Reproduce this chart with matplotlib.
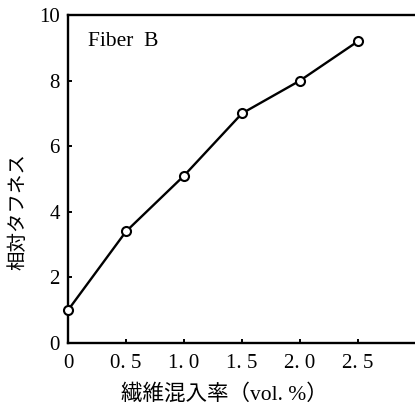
import matplotlib.pyplot as plt

# 繊維混入率 (vol.%) と 相対タフネス
fiber_vol = [0, 0.5, 1.0, 1.5, 2.0, 2.5]
toughness = [1.0, 3.4, 5.1, 7.0, 8.0, 9.2]
x_ticks = [0, 0.5, 1.0, 1.5, 2.0, 2.5]
x_labels = ['0', '0. 5', '1. 0', '1. 5', '2. 0', '2. 5']
y_ticks = [0, 2, 4, 6, 8, 10]

serif = ['Liberation Serif', 'DejaVu Serif']
mixed = ['Liberation Serif', 'Noto Sans CJK JP', 'DejaVu Sans']
jp = ['Noto Sans CJK JP', 'DejaVu Sans']

fig = plt.figure(figsize=(4.15, 4.09), dpi=100)
# axes runs off the right edge: no right frame in the original
ax = fig.add_axes([68/415, 66/409, 360/415, 328/409])

ax.plot(fiber_vol, toughness, color='black', lw=1.7,
        marker='o', ms=6.5, mfc='white', mec='black', mew=1.5, clip_on=False, zorder=3)

ax.set_xlim(0, 360/116)
ax.set_ylim(0, 10)
ax.set_xticks(x_ticks)
ax.set_xticklabels(x_labels)
ax.set_yticks(y_ticks)

for lab in ax.get_xticklabels() + ax.get_yticklabels():
    lab.set_family(serif)
    lab.set_fontsize(15)

ax.tick_params(direction='in', length=3, width=1.4, pad=6)
ax.tick_params(axis='x', pad=8)
ax.spines['right'].set_visible(False)
for s in ['left', 'bottom', 'top']:
    ax.spines[s].set_linewidth(1.7)

ax.text(0.17, 9.2, 'Fiber  B', family=serif, fontsize=15.5, va='center', ha='left')

ax.set_ylabel('相対タフネス', family=jp, fontsize=14)
ax.yaxis.set_label_coords(-(68 - 28) / 360, 0.40)

ax.set_xlabel('繊維混入率（vol. %）', family=mixed, fontsize=15.5)
ax.xaxis.set_label_coords((224 - 68) / 360, -(384 - 343) / 328)

fig.savefig('out.png', dpi=100)
